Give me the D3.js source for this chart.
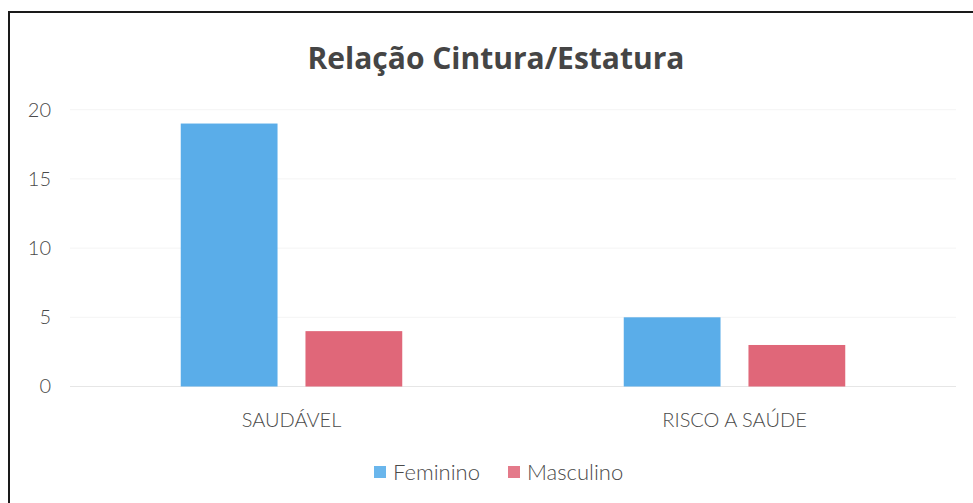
<!DOCTYPE html>
<html>
<head>
<meta charset="utf-8">
<script src="https://cdn.jsdelivr.net/npm/d3@7/dist/d3.min.js"></script>
<style>
  html, body { margin: 0; padding: 0; background: #ffffff; }
  svg { display: block; }
</style>
</head>
<body>
<svg id="chart" width="973" height="503"></svg>
<script>
// Categories, series and values
const categories = ["SAUDÁVEL", "RISCO A SAÚDE"];
const seriesNames = ["Feminino", "Masculino"];
const feminino = [19, 5];
const masculino = [4, 3];
const yTicks = [0, 5, 10, 15, 20];
const chartTitle = "Relação Cintura/Estatura";

const seriesValues = [feminino, masculino];
const colors = ["#5aade9", "#e06779"];
const legendColors = ["#6ab6ec", "#e47a8a"];

const svg = d3.select("#chart");
const W = 973, H = 503;

svg.append("rect").attr("width", W).attr("height", H).attr("fill", "#fff");

// Outer frame (runs off the right and bottom edges)
svg.append("rect")
  .attr("x", 9).attr("y", 12)
  .attr("width", W + 20).attr("height", H + 20)
  .attr("fill", "none")
  .attr("stroke", "#1a1a1a")
  .attr("stroke-width", 2);

// Scales
const x0 = d3.scaleBand()
  .domain(categories)
  .range([70, 956])
  .paddingInner(0.5)
  .paddingOuter(0.25);

const x1 = d3.scaleBand()
  .domain(seriesNames)
  .range([0, x0.bandwidth()])
  .paddingInner(0.224)
  .paddingOuter(0);

const y = d3.scaleLinear()
  .domain([0, 20])
  .range([386.5, 109.7]);

// Faint gridlines
svg.append("g")
  .selectAll("line")
  .data(yTicks)
  .join("line")
  .attr("x1", 70).attr("x2", 956)
  .attr("y1", d => y(d)).attr("y2", d => y(d))
  .attr("stroke", d => d === 0 ? "#e6e6e6" : "#f4f4f4")
  .attr("stroke-width", 1);

// Y axis labels
const yAxis = d3.axisLeft(y).tickValues(yTicks).tickSize(0).tickPadding(0);
const yg = svg.append("g")
  .attr("transform", "translate(51,0)")
  .call(yAxis);
yg.select(".domain").remove();
yg.selectAll("text")
  .attr("font-family", "Lato, 'Open Sans', sans-serif")
  .attr("font-size", 20)
  .attr("font-weight", 300)
  .attr("fill", "#4a4a4a");

// Bars
const groups = svg.append("g")
  .selectAll("g")
  .data(categories)
  .join("g")
  .attr("transform", d => `translate(${x0(d)},0)`);

groups.selectAll("rect")
  .data((c, i) => seriesNames.map((s, j) => ({ s, v: seriesValues[j][i], j })))
  .join("rect")
  .attr("x", d => x1(d.s))
  .attr("y", d => y(d.v))
  .attr("width", x1.bandwidth())
  .attr("height", d => y(0) - y(d.v))
  .attr("fill", d => colors[d.j]);

// Category axis labels
const xAxis = d3.axisBottom(x0).tickSize(0).tickPadding(0);
const xg = svg.append("g")
  .attr("transform", "translate(0,413)")
  .call(xAxis);
xg.select(".domain").remove();
xg.selectAll("text")
  .attr("dy", "0.71em")
  .attr("font-family", "Lato, 'Open Sans', sans-serif")
  .attr("font-size", 20)
  .attr("font-weight", 300)
  .attr("fill", "#4a4a4a");

// Title
svg.append("text")
  .attr("x", 496).attr("y", 69)
  .attr("text-anchor", "middle")
  .attr("font-family", "'Open Sans', Lato, sans-serif")
  .attr("font-size", 30)
  .attr("font-weight", 700)
  .attr("fill", "#454545")
  .text(chartTitle);

// Legend
const legendX = [374, 508];
const legend = svg.append("g")
  .selectAll("g")
  .data(seriesNames)
  .join("g")
  .attr("transform", (d, i) => `translate(${legendX[i]},466)`);
legend.append("rect")
  .attr("width", 12).attr("height", 12)
  .attr("fill", (d, i) => legendColors[i]);
legend.append("text")
  .attr("x", 19).attr("y", 6)
  .attr("dy", "0.35em")
  .attr("font-family", "Lato, 'Open Sans', sans-serif")
  .attr("font-size", 22)
  .attr("font-weight", 300)
  .attr("fill", "#4a4a4a")
  .text(d => d);
</script>
</body>
</html>
